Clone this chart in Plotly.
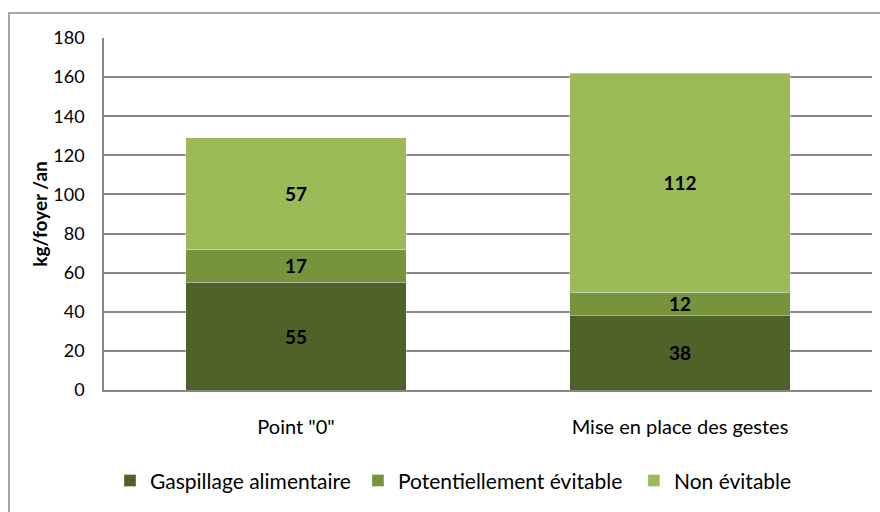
import plotly.graph_objects as go

categories = ['Point "0"', "Mise en place des gestes"]
series_names = ["Gaspillage alimentaire", "Potentiellement évitable", "Non évitable"]
gaspillage = [55, 38]
potentiel = [17, 12]
non_evitable = [57, 112]
y_ticks = [0, 20, 40, 60, 80, 100, 120, 140, 160, 180]

colors = ["#4F6228", "#77933C", "#9BBB59"]
font_family = "Lato, Open Sans, sans-serif"

# one legend per series so each entry sits where the original puts it
legend_ids = ["legend", "legend2", "legend3"]
legend_x = [0.0078, 0.3307, 0.690]

fig = go.Figure()
for name, values, color, lid in zip(series_names, [gaspillage, potentiel, non_evitable], colors, legend_ids):
    fig.add_trace(go.Bar(
        x=categories,
        y=values,
        name=name,
        legend=lid,
        showlegend=True,
        marker=dict(color=color, line=dict(width=1, color="rgba(255,255,255,0.35)")),
        text=values,
        textposition="inside",
        insidetextanchor="middle",
        textangle=0,
        constraintext="none",
        textfont=dict(family=font_family, size=19, color="black", weight="bold"),
    ))

layout_legends = {}
for lid, lx in zip(legend_ids, legend_x):
    layout_legends[lid] = dict(
        orientation="h",
        xanchor="left",
        x=lx,
        y=-0.258,
        yanchor="middle",
        font=dict(size=21),
        itemwidth=30,
        bgcolor="rgba(0,0,0,0)",
    )

fig.update_layout(
    barmode="stack",
    bargap=0.427,
    width=880,
    height=512,
    margin=dict(l=104, r=8, t=38, b=122, autoexpand=False),
    paper_bgcolor="white",
    plot_bgcolor="white",
    font=dict(family=font_family, color="black"),
    xaxis=dict(
        automargin=False,
        showgrid=False,
        showline=True,
        linecolor="#868686",
        linewidth=2,
        tickfont=dict(size=20),
        ticks="",
        ticklabelstandoff=18,
    ),
    yaxis=dict(
        automargin=False,
        range=[0, 180],
        tickvals=y_ticks,
        showgrid=True,
        gridcolor="#868686",
        gridwidth=1.5,
        showline=True,
        linecolor="#868686",
        linewidth=1.5,
        zeroline=False,
        tickfont=dict(size=18),
        ticks="",
        ticklabelstandoff=14,
        title=dict(text="<b>kg/foyer /an</b>", font=dict(size=19), standoff=1),
    ),
    shapes=[dict(
        type="rect",
        xref="paper", yref="paper",
        x0=-0.1237, x1=1.05, y0=-0.5, y1=1.071,
        line=dict(color="#A6A6A6", width=2),
        fillcolor="rgba(0,0,0,0)",
        layer="below",
    )],
    **layout_legends,
)

# the page's default body margin would shift the whole figure by 8px
fig.write_html(
    "out.html",
    config={"displayModeBar": False},
    post_script="document.body.style.margin='0';",
)
